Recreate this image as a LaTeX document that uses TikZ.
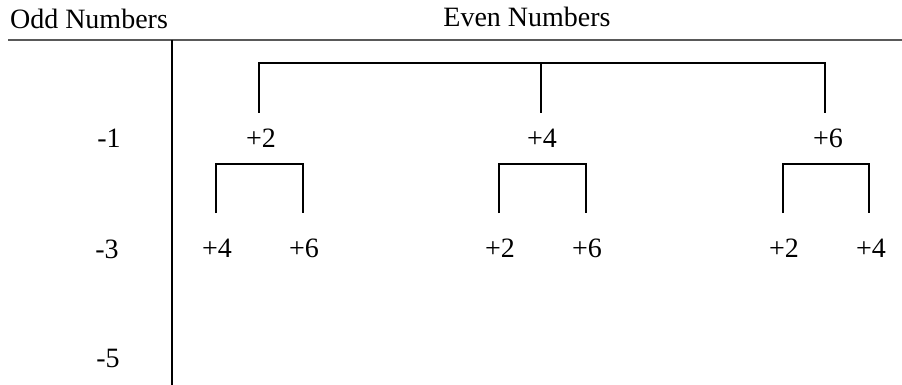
\documentclass[tikz,border=0pt]{standalone}
\usepackage{fontspec}
\setmainfont{Liberation Serif}
\begin{document}
\begin{tikzpicture}[x=1pt,y=-1pt,
  lbl/.style={anchor=base,inner sep=0pt,font=\fontsize{28}{31}\selectfont},
  brk/.style={line width=2pt,black,line cap=butt},
  rule/.style={line width=2pt,black!65},
  axis/.style={line width=1.6pt,black}]
\useasboundingbox (0,0) rectangle (902,385);
% headers
\node[lbl] (odd) at (89,29) {Odd Numbers};
\node[lbl] (even) at (527,27) {Even Numbers};
\coordinate (rl) at (8,40);
\coordinate (rr) at (902,40);
\draw[rule] (rl) -- (rr);
\coordinate (at) at (172,40);
\coordinate (ab) at (172,385);
\draw[axis] (at) -- (ab);
% odd labels
\node[lbl] (m1) at (109,148) {-1};
\node[lbl] (m3) at (107,258) {-3};
\node[lbl] (m5) at (108,367) {-5};
% first level
\node[lbl] (a2) at (261,147) {+2};
\node[lbl] (a4) at (542,147) {+4};
\node[lbl] (a6) at (828,147) {+6};
\coordinate (t1) at (259,63);
\coordinate (t2) at (541,63);
\coordinate (t3) at (825,63);
\draw[brk] (259,113) -- (t1) -- (t3) -- (825,113);
\draw[brk] (t2) -- (541,113);
% second level
\node[lbl] (b4) at (217,257) {+4};
\node[lbl] (b6) at (304,257) {+6};
\node[lbl] (c2) at (500,257) {+2};
\node[lbl] (c6) at (587,257) {+6};
\node[lbl] (d2) at (784,257) {+2};
\node[lbl] (d4) at (871,257) {+4};
\draw[brk] (216,213) -- (216,164) -- (303,164) -- (303,213);
\draw[brk] (499,213) -- (499,164) -- (586,164) -- (586,213);
\draw[brk] (783,213) -- (783,164) -- (869,164) -- (869,213);
\end{tikzpicture}
\end{document}
